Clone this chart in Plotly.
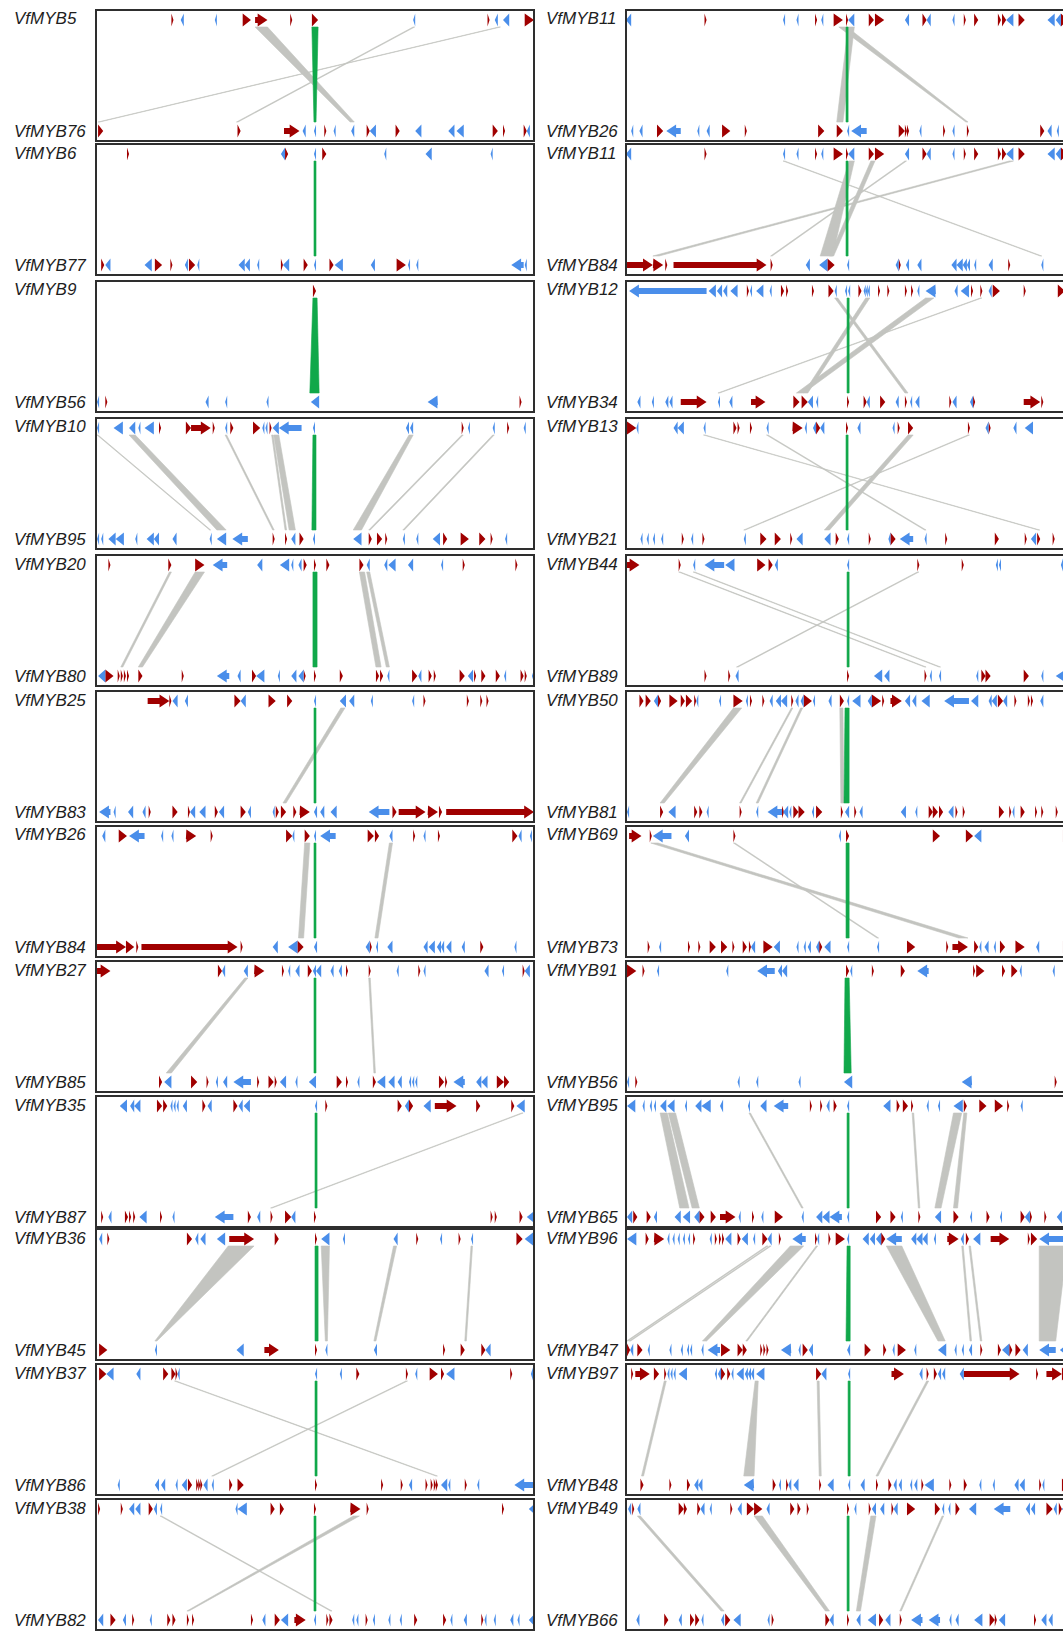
import plotly.graph_objects as go

# ---------------------------------------------------------------------------
# Gene tracks: (start, end, strand) in kb within each window; strand 1 = forward
# Links: (top_start, top_end, bottom_start, bottom_end, kind); kind 1 = MYB pair
# ---------------------------------------------------------------------------

L1_TOP = [(73,75,1),(82,85,-1),(115,117,-1),(142,150,1),(154,166,1),(188,190,1),(209,215,1),(307,309,-1),(379,381,1),(386,389,-1),(394,400,-1),(415,424,1)]
L1_BOT = [(2,7,1),(137,140,1),(182,197,1),(200,203,-1),(211,213,-1),(221,223,1),(230,232,-1),(247,250,-1),(262,265,1),(265,271,-1),(290,294,1),(309,315,-1),(341,347,-1),(349,356,-1),(384,389,1),(394,396,1),(414,417,1),(417,420,-1)]
L1_LINKS = [(154,166,246,250,0),(307,308.5,136,137.5,0),(390,391.5,2,3.5,0),(209,215,211,213,1)]

L2_TOP = [(30,32,1),(179,183,-1),(183,186,1),(211,213,-1),(219,223,1),(279,281,-1),(319,325,-1),(382,384,-1)]
L2_BOT = [(5,8,1),(9,14,-1),(47,54,-1),(57,64,1),(72,74,1),(86,89,-1),(90,96,1),(98,100,-1),(138,144,-1),(144,149,-1),(156,158,-1),(179,181,1),(181,187,-1),(201,205,1),(211,213,-1),(226,230,1),(231,239,-1),(266,270,-1),(291,300,1),(302,304,-1),(310,312,-1),(402,414,-1),(415,417,-1)]
L2_LINKS = [(211,213,211,213,1)]

L3_TOP = [(210,213,1)]
L3_BOT = [(1,3,-1),(9,11,1),(106,109,-1),(125,127,-1),(165,167,-1),(208,216,-1),(321,331,-1),(410,412,1)]
L3_LINKS = [(210,214,207,216,1)]

L4_TOP = [(1,3,-1),(17,26,-1),(32,38,-1),(41,43,-1),(47,56,-1),(61,63,1),(87,92,1),(92,111,1),(113,115,1),(125,127,-1),(130,133,1),(152,159,1),(161,163,-1),(164,166,-1),(168,170,1),(171,177,-1),(177,199,-1),(210,212,-1),(300,303,-1),(304,307,-1),(354,356,1),(360,362,-1),(384,386,-1),(398,400,1),(414,416,-1)]
L4_BOT = [(1,3,-1),(5,7,-1),(12,19,-1),(19,27,-1),(38,40,-1),(49,56,-1),(56,61,-1),(74,78,-1),(110,112,-1),(117,126,-1),(132,147,-1),(171,173,1),(183,185,1),(189,193,-1),(197,201,1),(210,212,-1),(249,257,-1),(264,267,1),(272,277,1),(280,282,1),(297,299,-1),(310,312,-1),(326,333,-1),(336,340,1),(353,361,1),(371,377,1),(382,384,1),(396,398,-1)]
L4_LINKS = [(1,2,110,111,0),(32,38,117,126,0),(125,126.5,171,172.5,0),(170,171.5,183,184.5,0),(172,177,187,193,0),(303,307,249,257,0),(354,355.5,264,265.5,0),(384,385.5,297,298.5,0),(210,213,209,213,1)]

L5_TOP = [(12,14,1),(70,73,1),(96,105,1),(113,127,-1),(156,161,-1),(178,187,-1),(189,191,-1),(196,199,-1),(201,204,1),(211,213,1),(223,226,1),(255,259,1),(262,265,-1),(279,282,-1),(283,290,-1),(302,307,-1),(334,336,-1),(355,357,1),(406,408,1)]
L5_BOT = [(2,9,-1),(9,17,1),(21,23,1),(24,26,1),(27,29,1),(30,32,1),(41,45,1),(83,85,1),(117,129,-1),(137,140,-1),(151,155,1),(155,163,-1),(176,178,-1),(189,194,-1),(196,201,-1),(201,203,1),(211,213,1),(236,239,1),(271,274,1),(275,278,1),(282,284,-1),(306,311,1),(312,315,-1),(322,325,1),(327,329,1),(352,357,1),(360,365,-1),(366,368,1),(373,377,1),(387,391,1),(395,397,-1),(411,414,1),(415,417,1),(422,424,-1)]
L5_LINKS = [(71,73,24,26,0),(96,105,41,45,0),(255,260,271,276,0),(262,265,281,284,0),(210,214,210,214,1)]

L6_TOP = [(50,71,1),(71,73,1),(74,79,-1),(86,89,-1),(134,140,1),(140,145,-1),(167,174,1),(185,190,1),(211,213,-1),(236,242,-1),(245,250,-1),(266,268,-1),(306,308,-1),(317,319,1),(359,361,1),(372,374,1),(378,380,1)]
L6_BOT = [(3,14,-1),(17,19,-1),(31,36,-1),(45,48,-1),(51,53,1),(74,79,1),(89,91,1),(91,96,-1),(100,106,-1),(115,118,1),(119,124,-1),(140,145,1),(147,150,-1),(171,173,-1),(174,177,1),(179,184,1),(191,194,1),(197,207,1),(211,214,-1),(217,221,-1),(227,233,-1),(264,284,-1),(287,291,1),(293,319,1),(321,331,1),(332,335,1),(339,424,1)]
L6_LINKS = [(237,241,181,184,0),(211,213,211,213,1)]

L7_TOP = [(6,9,-1),(22,30,1),(32,47,-1),(63,65,-1),(73,75,-1),(87,97,1),(111,113,1),(184,190,1),(190,192,-1),(202,207,1),(211,213,-1),(217,232,-1),(263,269,1),(270,274,1),(284,287,-1),(307,309,1),(317,319,-1),(331,333,1),(403,408,1),(409,412,-1),(420,422,-1)]
L7_BOT = [(1,29,1),(29,37,1),(39,41,1),(44,137,1),(140,142,1),(171,176,-1),(186,195,-1),(195,201,1),(211,214,-1),(261,265,-1),(265,267,1),(271,273,-1),(282,287,-1),(317,321,-1),(322,328,-1),(330,334,-1),(334,337,-1),(339,344,-1),(354,357,-1),(372,375,1),(405,407,-1)]
L7_LINKS = [(202,207,196,201,0),(284,287,270,273,0),(211,213,211,213,1)]

L8_TOP = [(1,14,1),(118,122,1),(122,125,-1),(143,147,-1),(153,163,1),(180,182,1),(186,188,-1),(193,197,-1),(205,209,1),(210,213,-1),(213,218,-1),(227,230,-1),(235,238,-1),(242,244,1),(264,266,1),(291,293,-1),(312,314,1),(317,319,-1),(376,380,-1),(393,395,-1),(413,415,1),(415,420,-1)]
L8_BOT = [(61,64,1),(66,73,-1),(92,98,1),(107,109,1),(116,118,-1),(123,127,-1),(133,150,-1),(156,158,1),(167,172,1),(173,175,1),(178,184,-1),(193,195,-1),(206,213,-1),(233,238,1),(242,244,1),(253,255,-1),(268,271,1),(272,280,-1),(283,289,-1),(292,296,-1),(303,305,-1),(306,308,-1),(309,311,-1),(332,337,1),(338,340,1),(346,357,-1),(368,373,-1),(373,379,-1),(388,395,1),(395,400,1)]
L8_LINKS = [(144,147,68,73,0),(264,265.5,269,270.5,0),(211,213,211,213,1)]

L9_TOP = [(23,30,-1),(33,37,-1),(37,43,-1),(59,64,1),(65,69,1),(72,74,-1),(75,77,-1),(78,80,-1),(84,88,-1),(103,106,1),(108,112,-1),(133,137,1),(138,142,-1),(143,149,-1),(212,214,-1),(222,224,1),(292,296,1),(299,303,-1),(303,307,1),(317,324,-1),(328,349,1),(368,372,1),(402,405,1),(407,415,-1)]
L9_BOT = [(5,7,1),(12,15,-1),(28,31,1),(32,34,1),(36,38,1),(42,49,-1),(62,64,1),(74,76,-1),(115,133,-1),(147,150,1),(156,159,-1),(169,171,1),(183,189,1),(189,193,-1),(211,213,1),(382,384,1),(386,388,1),(410,413,1),(417,425,-1)]
L9_LINKS = [(412,413.5,169,170.5,0),(212,214,212,214,1)]

L10_TOP = [(3,6,-1),(11,13,1),(88,93,1),(96,99,-1),(101,106,-1),(117,125,-1),(129,153,1),(173,177,1),(212,214,1),(218,226,-1),(239,241,-1),(288,292,-1),(310,312,1),(333,335,-1),(351,353,1),(363,365,-1),(407,413,1),(415,423,-1)]
L10_BOT = [(3,11,1),(57,59,-1),(136,143,-1),(163,177,1),(212,214,1),(222,224,-1),(269,272,-1),(336,338,1),(353,357,1),(373,377,1),(377,382,-1)]
L10_LINKS = [(128,153,57,59,0),(218,226,222,224,0),(288,291,269,271,0),(363,364.5,357,358.5,0),(212,215,212,215,1)]

L11_TOP = [(3,10,1),(10,17,-1),(39,43,-1),(65,70,1),(73,77,1),(77,79,1),(79,81,-1),(212,214,-1),(236,238,-1),(252,255,1),(300,302,1),(309,311,-1),(323,331,1),(334,337,1),(339,347,-1),(401,403,1),(421,423,-1)]
L11_BOT = [(21,23,-1),(57,61,-1),(63,67,-1),(77,79,-1),(83,88,-1),(89,93,1),(97,99,1),(99,101,1),(101,103,1),(104,108,-1),(112,114,-1),(129,132,1),(137,143,1),(212,214,1),(276,278,1),(295,297,1),(303,306,-1),(319,321,1),(324,326,1),(327,329,1),(329,331,1),(334,340,-1),(341,343,-1),(357,359,1),(369,371,-1),(405,425,-1)]
L11_LINKS = [(76,77.5,329,330.5,0),(300,301.5,112,113.5,0),(212,214,212,214,1)]

L12_TOP = [(2,4,1),(24,26,1),(32,37,-1),(38,43,-1),(51,55,1),(56,59,-1),(62,64,-1),(135,137,-1),(137,146,-1),(169,173,1),(178,182,1),(211,213,1),(246,256,1),(262,264,1),(393,395,1),(419,426,-1)]
L12_BOT = [(2,7,-1),(14,19,1),(26,29,-1),(35,37,1),(52,54,-1),(69,72,1),(74,77,1),(88,90,1),(93,95,1),(150,152,1),(161,164,-1),(173,178,1),(179,186,-1),(192,203,1),(211,213,-1),(223,225,1),(226,229,1),(248,250,-1),(252,254,-1),(261,263,1),(268,270,-1),(283,285,-1),(294,296,-1),(308,311,1),(336,339,1),(343,345,-1),(356,359,-1),(373,375,1),(376,378,-1),(385,387,-1),(401,404,-1),(408,410,-1),(419,425,-1)]
L12_LINKS = [(249,255,88,90,0),(62,63.5,227,228.5,0),(211,213,211,213,1)]

R1_TOP = [(0,5,-1),(76,78,1),(152,154,-1),(165,167,-1),(183,185,1),(189,191,-1),(201,210,1),(213,215,1),(215,221,-1),(235,240,1),(241,250,1),(270,274,-1),(287,291,1),(291,295,-1),(316,318,-1),(327,329,1),(337,341,1),(360,363,1),(364,368,1),(368,375,-1),(380,386,1),(408,415,-1),(416,421,-1),(421,428,1)]
R1_BOT = [(5,7,-1),(13,16,-1),(30,36,1),(39,53,-1),(69,71,-1),(78,81,-1),(93,101,1),(115,117,1),(186,192,1),(204,210,1),(214,216,-1),(218,233,-1),(264,270,1),(270,272,1),(272,274,1),(284,286,-1),(307,309,1),(316,318,-1),(330,332,1),(401,405,1),(408,412,-1),(417,419,-1)]
R1_LINKS = [(215,221,204,210,0),(206,214,329,331,0),(213,215,213,215,1)]

R2_TOP = R1_TOP
R2_BOT = [(1,26,1),(26,36,1),(38,40,1),(46,136,1),(140,142,1),(174,178,-1),(187,195,-1),(195,202,1),(214,216,-1),(261,264,-1),(264,266,1),(271,274,-1),(282,286,-1),(315,320,-1),(320,326,-1),(326,330,-1),(330,333,-1),(337,339,-1),(351,355,-1),(370,372,1),(402,404,-1)]
R2_LINKS = [(152,153.5,401,402.5,0),(216,221,188,200,0),(237,241,197,201,0),(270,271.5,140,141.5,0),(371,375,26,32,0),(213,215,213,215,1)]

R3_TOP = [(3,78,-1),(80,87,-1),(88,93,-1),(94,98,-1),(101,108,-1),(117,119,1),(120,122,-1),(126,133,-1),(139,141,-1),(150,153,1),(155,157,1),(180,182,1),(196,201,1),(202,204,-1),(212,214,-1),(215,217,-1),(225,228,1),(230,232,-1),(232,234,-1),(234,236,-1),(244,246,1),(253,255,1),(270,272,1),(276,278,1),(282,284,-1),(290,300,-1),(318,321,-1),(324,332,-1),(334,336,1),(343,345,1),(351,354,-1),(355,362,1),(385,387,1),(418,425,1)]
R3_BOT = [(11,14,-1),(25,27,-1),(38,41,-1),(42,45,-1),(53,78,1),(89,91,-1),(100,103,-1),(121,135,1),(162,168,1),(170,176,1),(176,181,-1),(184,186,-1),(214,216,1),(230,233,1),(233,236,-1),(246,251,1),(261,264,-1),(270,272,1),(275,277,-1),(280,284,-1),(313,315,1),(316,320,-1),(333,336,-1),(336,338,1),(385,401,1),(402,404,1),(423,428,-1)]
R3_LINKS = [(202,205,270,273,0),(232,236,172,176,0),(290,298,165,172,0),(343,344.5,89,90.5,0),(214,216,214,216,1)]

R4_TOP = [(1,10,1),(10,12,-1),(46,50,-1),(50,56,-1),(75,77,-1),(104,107,1),(108,110,1),(120,122,1),(136,138,-1),(161,171,1),(173,175,-1),(181,184,-1),(184,188,1),(188,192,-1),(213,215,1),(224,227,-1),(258,260,-1),(263,265,1),(273,278,1),(331,333,1),(348,351,-1),(351,353,1),(375,378,-1),(386,394,-1)]
R4_BOT = [(14,16,-1),(20,22,-1),(26,28,-1),(34,36,-1),(54,56,1),(63,65,-1),(74,76,1),(114,116,-1),(130,136,1),(144,150,1),(159,161,1),(165,171,-1),(192,198,-1),(203,206,1),(214,216,-1),(235,237,1),(254,256,-1),(256,261,1),(265,278,-1),(289,291,-1),(309,311,1),(357,361,1),(386,388,1),(392,397,-1),(398,401,1),(413,415,1),(425,428,1)]
R4_LINKS = [(75,76.5,399,400.5,0),(136,137.5,289,290.5,0),(331,332.5,114,115.5,0),(273,278,192,197,0),(213,215,213,215,1)]

R5_TOP = [(1,13,1),(51,53,1),(65,67,-1),(76,95,-1),(96,105,-1),(127,135,1),(138,142,1),(144,147,-1),(214,216,-1),(282,284,1),(325,327,1),(358,360,-1),(361,363,-1),(421,423,-1)]
R5_BOT = [(76,78,1),(99,101,1),(106,109,-1),(214,216,1),(240,248,-1),(250,255,-1),(289,291,1),(294,296,-1),(303,305,-1),(339,341,-1),(344,348,1),(348,353,1),(385,390,1),(402,404,-1),(416,428,-1)]
R5_LINKS = [(51,52.5,289,290.5,0),(65,66.5,303,304.5,0),(282,283.5,107,108.5,0),(214,216,214,216,1)]

R6_TOP = [(13,17,1),(19,24,1),(27,31,-1),(31,34,1),(42,50,1),(53,57,1),(58,64,1),(66,68,1),(68,70,-1),(90,92,-1),(104,113,1),(116,118,-1),(120,122,1),(132,134,1),(139,142,-1),(145,150,-1),(150,156,-1),(160,162,1),(164,167,-1),(169,172,-1),(172,180,1),(181,183,-1),(196,199,-1),(207,211,1),(214,216,-1),(219,227,-1),(234,238,-1),(238,247,1),(248,250,1),(256,267,1),(270,275,-1),(277,281,-1),(286,294,-1),(308,332,-1),(334,341,-1),(351,354,-1),(354,359,-1),(360,365,1),(365,369,-1),(376,378,1),(389,391,1),(392,394,1),(401,404,-1)]
R6_BOT = [(1,3,-1),(33,36,1),(41,48,-1),(66,69,1),(71,74,1),(78,80,-1),(110,112,1),(126,128,-1),(137,151,-1),(151,153,1),(152,157,-1),(158,160,-1),(162,167,1),(167,173,1),(180,182,-1),(184,190,1),(208,210,1),(212,216,-1),(221,223,1),(226,229,-1),(266,271,-1),(280,282,-1),(293,297,1),(297,302,1),(303,307,1),(312,317,-1),(319,321,1),(326,328,1),(361,366,1),(371,373,1),(374,376,-1),(382,386,1),(396,398,1),(402,404,1),(416,418,1),(423,428,-1)]
R6_LINKS = [(104,112,33,37,0),(160,161.5,110,111.5,0),(169,171,126,128,0),(207,210,208,211,0),(212,216,211,216,1)]

R7_TOP = [(3,15,1),(23,25,1),(26,44,-1),(57,61,-1),(104,106,1),(206,208,-1),(213,216,1),(297,304,1),(329,336,1),(337,344,-1),(423,428,1)]
R7_BOT = [(21,23,1),(32,34,-1),(60,62,1),(70,72,1),(81,87,1),(92,98,1),(103,105,1),(113,117,1),(119,121,1),(121,125,-1),(133,142,1),(143,149,-1),(165,167,-1),(172,174,-1),(176,179,-1),(184,187,-1),(187,190,1),(192,198,-1),(214,216,-1),(243,245,-1),(272,280,1),(310,312,1),(316,331,1),(337,341,1),(342,344,-1),(347,351,-1),(356,358,-1),(362,367,1),(377,386,1),(397,400,-1),(423,428,1)]
R7_LINKS = [(24,31,322,331,0),(104,105.5,243,244.5,0),(213,216,213,216,1)]

R8_TOP = [(1,10,1),(16,18,1),(30,32,-1),(97,99,-1),(127,144,-1),(147,151,-1),(151,156,-1),(213,216,1),(217,219,-1),(238,240,1),(266,270,1),(282,293,-1),(336,338,1),(339,347,1),(364,367,1),(373,379,1),(381,383,-1),(413,415,-1)]
R8_BOT = [(1,3,-1),(9,11,1),(108,110,-1),(126,128,-1),(167,169,-1),(211,219,-1),(325,335,-1),(415,417,1)]
R8_LINKS = [(212,216,211,218,1)]

R9_TOP = [(1,9,-1),(16,18,-1),(23,25,-1),(27,29,-1),(33,39,-1),(40,47,-1),(57,59,-1),(67,73,-1),(73,82,-1),(91,94,-1),(118,120,-1),(130,136,-1),(143,157,-1),(178,180,1),(188,190,1),(194,197,-1),(201,204,1),(214,216,-1),(249,256,-1),(262,265,1),(268,273,1),(276,278,1),(291,293,-1),(302,304,-1),(317,326,-1),(327,330,1),(342,349,1),(357,365,1),(369,371,1),(382,384,-1)]
R9_BOT = [(1,6,-1),(7,11,1),(20,24,1),(27,30,-1),(47,53,-1),(55,62,-1),(66,71,-1),(71,76,1),(82,87,1),(91,106,1),(109,111,-1),(122,124,1),(131,133,-1),(144,152,1),(170,172,-1),(184,190,-1),(190,197,-1),(197,209,-1),(214,216,-1),(242,247,1),(256,261,1),(266,268,-1),(283,285,1),(299,305,-1),(317,322,1),(333,335,-1),(349,352,1),(362,364,-1),(382,386,1),(386,391,-1),(391,393,1),(405,407,1),(417,422,-1)]
R9_LINKS = [(33,40,52,61,0),(41,48,64,71,0),(119,120.5,170,171.5,0),(277,278.5,283,284.5,0),(317,325,299,305,0),(327,330,317,321,0),(214,216,214,216,1)]

R10_TOP = [(1,10,-1),(19,22,1),(27,37,1),(40,42,-1),(45,47,-1),(50,52,-1),(55,57,-1),(60,62,-1),(65,67,1),(81,83,-1),(86,88,1),(90,92,1),(93,95,1),(96,102,-1),(108,111,1),(112,118,-1),(123,125,-1),(132,137,1),(137,141,-1),(148,150,1),(161,174,-1),(183,185,1),(185,187,-1),(196,198,1),(203,212,1),(214,216,-1),(229,235,-1),(236,241,-1),(242,247,-1),(247,251,1),(252,267,-1),(276,281,-1),(281,287,-1),(287,292,-1),(298,300,-1),(311,322,1),(324,327,-1),(329,332,1),(336,343,-1),(353,371,1),(389,391,1),(392,398,1),(400,430,-1)]
R10_BOT = [(1,4,1),(4,7,-1),(11,16,1),(21,23,-1),(42,44,-1),(53,55,-1),(59,61,-1),(62,64,-1),(73,75,-1),(79,91,-1),(92,101,1),(108,113,1),(113,117,1),(130,132,1),(133,135,1),(136,138,1),(150,160,-1),(167,169,-1),(171,176,1),(177,181,-1),(214,217,-1),(231,237,1),(249,252,1),(258,260,-1),(263,271,1),(279,281,-1),(302,310,-1),(318,320,-1),(325,327,-1),(332,335,-1),(343,345,1),(360,363,1),(364,371,-1),(371,374,1),(377,382,1),(384,389,-1),(400,416,-1),(420,428,-1)]
R10_LINKS = [(136,137.5,0.5,2,0),(139,140.5,3,4.5,0),(159,172,74,78,0),(184,185.5,116,117.5,0),(252,267,302,309,0),(325,326.5,333,334.5,0),(332,333.5,343,344.5,0),(400,427,400,416,0),(214,217,213,217,1)]

R11_TOP = [(5,7,1),(9,23,1),(27,32,1),(37,39,1),(40,42,-1),(43,45,-1),(46,48,-1),(51,59,-1),(86,88,-1),(89,92,-1),(92,96,1),(98,101,1),(102,104,-1),(107,114,-1),(115,118,-1),(118,121,-1),(121,124,-1),(126,134,-1),(184,189,1),(189,194,-1),(215,217,-1),(257,269,1),(284,287,-1),(291,293,1),(298,301,1),(302,305,-1),(306,309,-1),(323,327,-1),(327,381,1),(397,399,1),(407,422,1),(422,428,1)]
R11_BOT = [(14,17,1),(42,44,1),(59,62,1),(66,70,-1),(70,74,-1),(114,124,-1),(142,145,1),(148,150,-1),(155,157,1),(157,160,-1),(162,167,-1),(187,189,1),(195,201,-1),(215,217,-1),(227,231,-1),(242,244,1),(254,257,1),(259,262,-1),(264,267,-1),(275,277,-1),(279,282,-1),(286,288,1),(289,298,-1),(313,315,1),(327,330,1),(342,344,-1),(355,357,-1),(376,380,-1),(381,386,-1),(400,402,1),(403,405,-1),(422,428,1)]
R11_LINKS = [(37,39,15,17,0),(125,128,114,124,0),(185,187,187,189,0),(291,293,242,244,0),(215,217,215,217,1)]

R12_TOP = [(2,5,-1),(6,8,1),(11,14,-1),(51,56,1),(56,59,1),(69,72,1),(72,76,-1),(81,83,-1),(101,103,1),(108,112,-1),(117,124,1),(124,132,1),(136,139,-1),(159,163,1),(166,169,1),(175,177,1),(214,216,1),(221,223,-1),(235,237,1),(238,242,-1),(246,250,-1),(257,259,1),(259,263,-1),(272,280,1),(299,304,1),(306,308,-1),(312,314,-1),(319,323,1),(332,339,-1),(356,372,-1),(387,391,-1),(392,396,-1),(407,413,1),(414,417,-1),(419,422,1),(422,427,-1)]
R12_BOT = [(10,13,-1),(37,41,1),(51,54,-1),(62,66,1),(67,71,1),(73,75,-1),(92,95,-1),(96,101,1),(104,111,-1),(137,139,-1),(141,143,1),(193,197,1),(197,201,-1),(214,216,1),(223,227,-1),(234,242,-1),(245,249,1),(251,256,-1),(265,267,1),(276,287,-1),(293,304,-1),(313,315,-1),(319,322,-1),(337,345,-1),(352,357,1),(357,359,1),(361,367,-1),(395,397,1),(402,407,-1),(409,413,-1)]
R12_LINKS = [(11,14,92,95,0),(124,132,193,197,0),(237,242,223,227,0),(306,307.5,265,266.5,0),(214,216,214,216,1)]

LEFT_LABELS = [("VfMYB5", "VfMYB76"), ("VfMYB6", "VfMYB77"), ("VfMYB9", "VfMYB56"),
               ("VfMYB10", "VfMYB95"), ("VfMYB20", "VfMYB80"), ("VfMYB25", "VfMYB83"),
               ("VfMYB26", "VfMYB84"), ("VfMYB27", "VfMYB85"), ("VfMYB35", "VfMYB87"),
               ("VfMYB36", "VfMYB45"), ("VfMYB37", "VfMYB86"), ("VfMYB38", "VfMYB82")]
RIGHT_LABELS = [("VfMYB11", "VfMYB26"), ("VfMYB11", "VfMYB84"), ("VfMYB12", "VfMYB34"),
                ("VfMYB13", "VfMYB21"), ("VfMYB44", "VfMYB89"), ("VfMYB50", "VfMYB81"),
                ("VfMYB69", "VfMYB73"), ("VfMYB91", "VfMYB56"), ("VfMYB95", "VfMYB65"),
                ("VfMYB96", "VfMYB47"), ("VfMYB97", "VfMYB48"), ("VfMYB49", "VfMYB66")]

LEFT_TRACKS = [(L1_TOP, L1_BOT, L1_LINKS), (L2_TOP, L2_BOT, L2_LINKS), (L3_TOP, L3_BOT, L3_LINKS),
               (L4_TOP, L4_BOT, L4_LINKS), (L5_TOP, L5_BOT, L5_LINKS), (L6_TOP, L6_BOT, L6_LINKS),
               (L7_TOP, L7_BOT, L7_LINKS), (L8_TOP, L8_BOT, L8_LINKS), (L9_TOP, L9_BOT, L9_LINKS),
               (L10_TOP, L10_BOT, L10_LINKS), (L11_TOP, L11_BOT, L11_LINKS), (L12_TOP, L12_BOT, L12_LINKS)]
RIGHT_TRACKS = [(R1_TOP, R1_BOT, R1_LINKS), (R2_TOP, R2_BOT, R2_LINKS), (R3_TOP, R3_BOT, R3_LINKS),
                (R4_TOP, R4_BOT, R4_LINKS), (R5_TOP, R5_BOT, R5_LINKS), (R6_TOP, R6_BOT, R6_LINKS),
                (R7_TOP, R7_BOT, R7_LINKS), (R8_TOP, R8_BOT, R8_LINKS), (R9_TOP, R9_BOT, R9_LINKS),
                (R10_TOP, R10_BOT, R10_LINKS), (R11_TOP, R11_BOT, R11_LINKS), (R12_TOP, R12_BOT, R12_LINKS)]

# ---------------------------------------------------------------------------
# Layout constants (pixels)
# ---------------------------------------------------------------------------
W, H = 1063, 1631
ROW_TOPS = [10, 144, 281, 418, 555, 691, 826, 961, 1096, 1229, 1364, 1499]
PANEL_H = 131
KB_PER_PX = 424 / 438
# panel x0, x1 (px) and kb span shown across that width
COLUMNS = [(96, 534, 424), (626, 1063, 437 * KB_PER_PX)]

Y_SPAN = PANEL_H           # y axis in track units
TOP_Y = PANEL_H - 10       # top gene track centre
BOT_Y = 10                 # bottom gene track centre
RIB_TOP = PANEL_H - 17     # link start below top track
RIB_BOT = 19               # link end above bottom track
HALF_H = 6.5               # arrowhead half height
SHAFT_H = 3.0              # arrow shaft half height
HEAD = 9.5                 # arrowhead length (kb)

RED = "#a00000"
BLUE = "#4a8eea"
GREY = "#c3c4c0"
GREEN = "#10a84a"


def gene_shape(s, e, strand, yc):
    """Polygon outline of one gene glyph (arrow or arrowhead)."""
    if e - s <= HEAD:
        if strand > 0:
            return [s, e, s, s], [yc - HALF_H, yc, yc + HALF_H, yc - HALF_H]
        return [e, s, e, e], [yc - HALF_H, yc, yc + HALF_H, yc - HALF_H]
    ys = [yc - SHAFT_H, yc - SHAFT_H, yc - HALF_H, yc, yc + HALF_H, yc + SHAFT_H, yc + SHAFT_H, yc - SHAFT_H]
    if strand > 0:
        hb = e - HEAD
        return [s, hb, hb, e, hb, hb, s, s], ys
    hb = s + HEAD
    return [e, hb, hb, s, hb, hb, e, e], ys


def poly_trace(xs, ys, color, xa, ya, lw=0.0):
    return go.Scatter(x=xs, y=ys, mode="lines", fill="toself", fillcolor=color,
                      line=dict(color=color, width=lw), hoverinfo="skip",
                      showlegend=False, xaxis=xa, yaxis=ya)


fig = go.Figure()
layout = dict(width=W, height=H, margin=dict(l=0, r=0, t=0, b=0),
              paper_bgcolor="white", plot_bgcolor="rgba(0,0,0,0)", showlegend=False)
shapes, annotations = [], []

n = 0
for col, (labels, tracks) in enumerate([(LEFT_LABELS, LEFT_TRACKS), (RIGHT_LABELS, RIGHT_TRACKS)]):
    px0, px1, span = COLUMNS[col]
    for row, ((top_name, bot_name), (top_genes, bot_genes, links)) in enumerate(zip(labels, tracks)):
        n += 1
        suffix = "" if n == 1 else str(n)
        xa, ya = f"x{suffix}", f"y{suffix}"
        xkey, ykey = f"xaxis{suffix}", f"yaxis{suffix}"
        top = ROW_TOPS[row]
        layout[xkey] = dict(domain=[px0 / W, min(px1 / W, 1.0)], range=[0, span],
                            visible=False, fixedrange=True, anchor=ya)
        layout[ykey] = dict(domain=[1 - (top + PANEL_H) / H, 1 - top / H], range=[0, Y_SPAN],
                            visible=False, fixedrange=True, anchor=xa)

        # synteny links: grey first, focal MYB pair in green on top
        for kind, color in ((0, GREY), (1, GREEN)):
            xs, ys = [], []
            for ts, te, bs, be, k in links:
                if k != kind:
                    continue
                xs += [ts, te, be, bs, ts, None]
                ys += [RIB_TOP, RIB_TOP, RIB_BOT, RIB_BOT, RIB_TOP, None]
            if xs:
                fig.add_trace(poly_trace(xs, ys, color, xa, ya, lw=0.6))

        # gene glyphs
        for strand, color in ((1, RED), (-1, BLUE)):
            xs, ys = [], []
            for genes, yc in ((top_genes, TOP_Y), (bot_genes, BOT_Y)):
                for s, e, st in genes:
                    if st != strand:
                        continue
                    gx, gy = gene_shape(s, e, st, yc)
                    xs += gx + [None]
                    ys += gy + [None]
            if xs:
                fig.add_trace(poly_trace(xs, ys, color, xa, ya))

        # panel frame
        shapes.append(dict(type="rect", xref=f"{xa} domain", yref=f"{ya} domain",
                           x0=0, x1=1 if col == 0 else 1.05, y0=0, y1=1,
                           line=dict(color="#2e2e2e", width=2), fillcolor="rgba(0,0,0,0)",
                           layer="above"))

        # gene names
        lx = 12 / W if col == 0 else 544 / W
        for name, ypx in ((top_name, top + 9), (bot_name, top + PANEL_H - 10)):
            annotations.append(dict(text=f"<i>{name}</i>", xref="paper", yref="paper",
                                    x=lx, y=1 - ypx / H, xanchor="left", yanchor="middle",
                                    showarrow=False,
                                    font=dict(family="Liberation Sans, Arial, sans-serif",
                                              size=17, color="#1e1e1e")))

layout["shapes"] = shapes
layout["annotations"] = annotations
fig.update_layout(**layout)
fig.write_html("out.html")
